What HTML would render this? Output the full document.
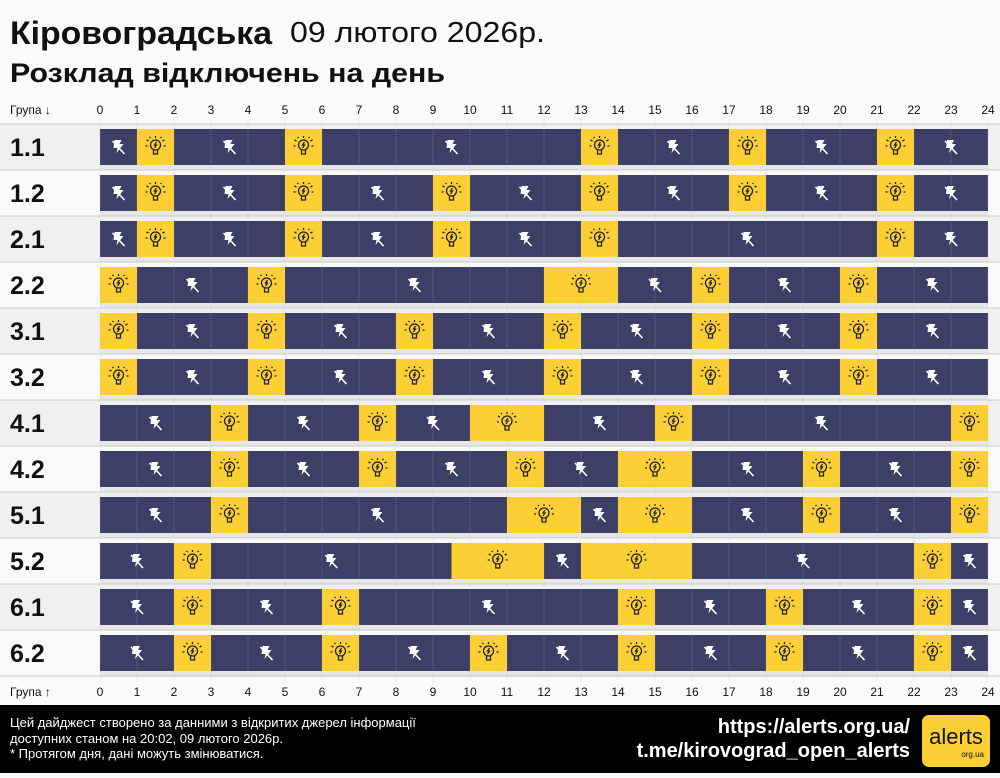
<!DOCTYPE html>
<html><head><meta charset="utf-8"><style>
body{margin:0;width:1000px;height:773px;overflow:hidden;background:#fafafa;font-family:"Liberation Sans",sans-serif}
</style></head><body>
<svg id="s" width="1000" height="773" xmlns="http://www.w3.org/2000/svg" font-family="Liberation Sans, sans-serif">
<rect width="1000" height="773" fill="#fafafa"/>
<text x="10" y="44" font-size="32" font-weight="bold" fill="#111" textLength="262" lengthAdjust="spacingAndGlyphs">Кіровоградська</text>
<text x="290" y="42" font-size="29" fill="#111" textLength="255" lengthAdjust="spacingAndGlyphs">09 лютого 2026р.</text>
<text x="10" y="82" font-size="27" font-weight="bold" fill="#111" textLength="435" lengthAdjust="spacingAndGlyphs">Розклад відключень на день</text>
<text x="10" y="114" font-size="12" fill="#111">Група ↓</text>
<text x="10" y="696" font-size="12" fill="#111">Група ↑</text>
<rect x="0" y="705" width="1000" height="68" fill="#000"/>
<text x="10" y="727" font-size="13" fill="#fff">Цей дайджест створено за данними з відкритих джерел інформації</text>
<text x="10" y="743" font-size="13" fill="#fff">доступних станом на 20:02, 09 лютого 2026р.</text>
<text x="10" y="758" font-size="13" fill="#fff">* Протягом дня, дані можуть змінюватися.</text>
<text x="910" y="733" font-size="20" font-weight="bold" fill="#fff" text-anchor="end">https://alerts.org.ua/</text>
<text x="910" y="757" font-size="20" font-weight="bold" fill="#fff" text-anchor="end">t.me/kirovograd_open_alerts</text>
<rect x="922" y="715" width="68" height="52" rx="7" fill="#fcd034"/>
<text x="956" y="744" font-size="22" fill="#111" text-anchor="middle">alerts</text>
<text x="984" y="757" font-size="8" fill="#111" text-anchor="end">org.ua</text>
<g id="g"></g>
</svg>
<script>
var d=[[[1,2],[5,6],[13,14],[17,18],[21,22]],
[[1,2],[5,6],[9,10],[13,14],[17,18],[21,22]],
[[1,2],[5,6],[9,10],[13,14],[21,22]],
[[0,1],[4,5],[12,14],[16,17],[20,21]],
[[0,1],[4,5],[8,9],[12,13],[16,17],[20,21]],
[[0,1],[4,5],[8,9],[12,13],[16,17],[20,21]],
[[3,4],[7,8],[10,12],[15,16],[23,24]],
[[3,4],[7,8],[11,12],[14,16],[19,20],[23,24]],
[[3,4],[11,13],[14,16],[19,20],[23,24]],
[[2,3],[9.5,12],[13,16],[22,23]],
[[2,3],[6,7],[14,15],[18,19],[22,23]],
[[2,3],[6,7],[10,11],[14,15],[18,19],[22,23]]];
var n=["1.1","1.2","2.1","2.2","3.1","3.2","4.1","4.2","5.1","5.2","6.1","6.2"];
var h="",X=function(t){return 100+37*t};
for(var i=0;i<12;i++){var y=124+46*i;
h+='<rect x="0" y="'+y+'" width="1000" height="46" fill="'+(i%2?'#fafafa':'#f0f0f0')+'"/>';
h+='<line x1="0" x2="1000" y1="'+y+'" y2="'+y+'" stroke="#ccc"/>';
h+='<rect x="100" y="'+(y+41)+'" width="888" height="6" fill="#e6e6e6"/>';
h+='<text x="10" y="'+(y+32)+'" font-size="25" font-weight="bold" fill="#111">'+n[i]+'</text>';
var by=y+5,segs=[],p=0;
d[i].forEach(function(s){if(s[0]>p)segs.push([p,s[0],0]);segs.push([s[0],s[1],1]);p=s[1]});
if(p<24)segs.push([p,24,0]);
segs.forEach(function(s){var x1=X(s[0]),x2=X(s[1]),cx=(x1+x2)/2,cy=by+18;
h+='<rect x="'+x1+'" y="'+by+'" width="'+(x2-x1)+'" height="36" fill="'+(s[2]?'#fcd034':'#3d3f66')+'"/>';
if(s[2])h+='<g transform="translate('+cx+','+cy+')" fill="none" stroke="#222" stroke-width="1.3"><circle cx="0" cy="-2" r="5"/><path d="M-2 3v4h4v-4M-7-6l-2-1M7-6l2-1M-8-1h-2M8-1h2M0-9v-2M-5-9l-1-1M5-9l1-1M1-5l-2 3h2l-2 3"/></g>';
else h+='<g transform="translate('+cx+','+cy+')"><path d="M-4-7h7l-2 4h4l-7 9 1-5h-4z" fill="#fff"/><line x1="-6" y1="-6" x2="6" y2="7" stroke="#fff" stroke-width="1.6"/></g>';});
}
for(var t=0;t<=24;t++){var x=X(t);
h+='<line x1="'+x+'" x2="'+x+'" y1="118" y2="682" stroke="#bbb" stroke-opacity="0.18"/>';
h+='<text x="'+x+'" y="114" font-size="12" text-anchor="middle" fill="#111">'+t+'</text>';
h+='<text x="'+x+'" y="696" font-size="12" text-anchor="middle" fill="#111">'+t+'</text>';}
h+='<line x1="0" x2="1000" y1="676" y2="676" stroke="#ccc"/>';
document.getElementById("g").innerHTML=h;
</script>
</body></html>
